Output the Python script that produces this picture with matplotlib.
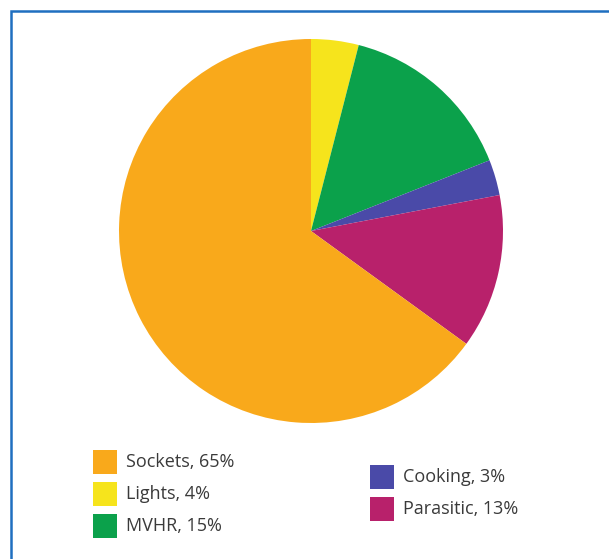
import matplotlib.pyplot as plt
from matplotlib.patches import Rectangle

# === data ===
labels = ['Lights', 'MVHR', 'Cooking', 'Parasitic', 'Sockets']
shares = [4, 15, 3, 13, 65]
colors = ['#F6E41C', '#0BA14B', '#4A4AA8', '#B8216B', '#F9A91B']

# legend layout: two columns, like the original figure
legend_cols = [['Sockets', 'Lights', 'MVHR'], ['Cooking', 'Parasitic']]

W, H = 609, 559
fig = plt.figure(figsize=(W / 100, H / 100), dpi=100)
plt.rcParams['font.family'] = ['Open Sans', 'DejaVu Sans']

# thin blue frame (runs off the right and bottom edges)
fig.patches.append(Rectangle((10.5 / W, -0.1), 1.2, (H - 10.5) / H + 0.1,
                             transform=fig.transFigure, fill=False,
                             edgecolor='#1F6FC0', lw=1.8))

# === pie ===
cx, cy, r = 311, 231, 192
ax = fig.add_axes([(cx - r) / W, (H - cy - r) / H, 2 * r / W, 2 * r / H])
ax.pie(shares, colors=colors, startangle=90, counterclock=False,
       radius=1, wedgeprops=dict(linewidth=0))
ax.set_xlim(-1, 1)
ax.set_ylim(-1, 1)
ax.set_aspect('equal')
ax.axis('off')

# === legend ===
col_x = [93, 370]
col_y0 = [450, 465]
step = 32
sq = 24
for ci, names in enumerate(legend_cols):
    for ri, name in enumerate(names):
        i = labels.index(name)
        x = col_x[ci]
        y = col_y0[ci] + ri * step
        fig.patches.append(Rectangle((x / W, (H - y - sq) / H), sq / W, sq / H,
                                     transform=fig.transFigure,
                                     facecolor=colors[i], edgecolor='none'))
        fig.text((x + sq + 9) / W, (H - y - sq / 2) / H,
                 f'{name}, {shares[i]}%', fontsize=13, color='#3A3A3A',
                 va='center', ha='left')

fig.savefig('out.png', dpi=100)
